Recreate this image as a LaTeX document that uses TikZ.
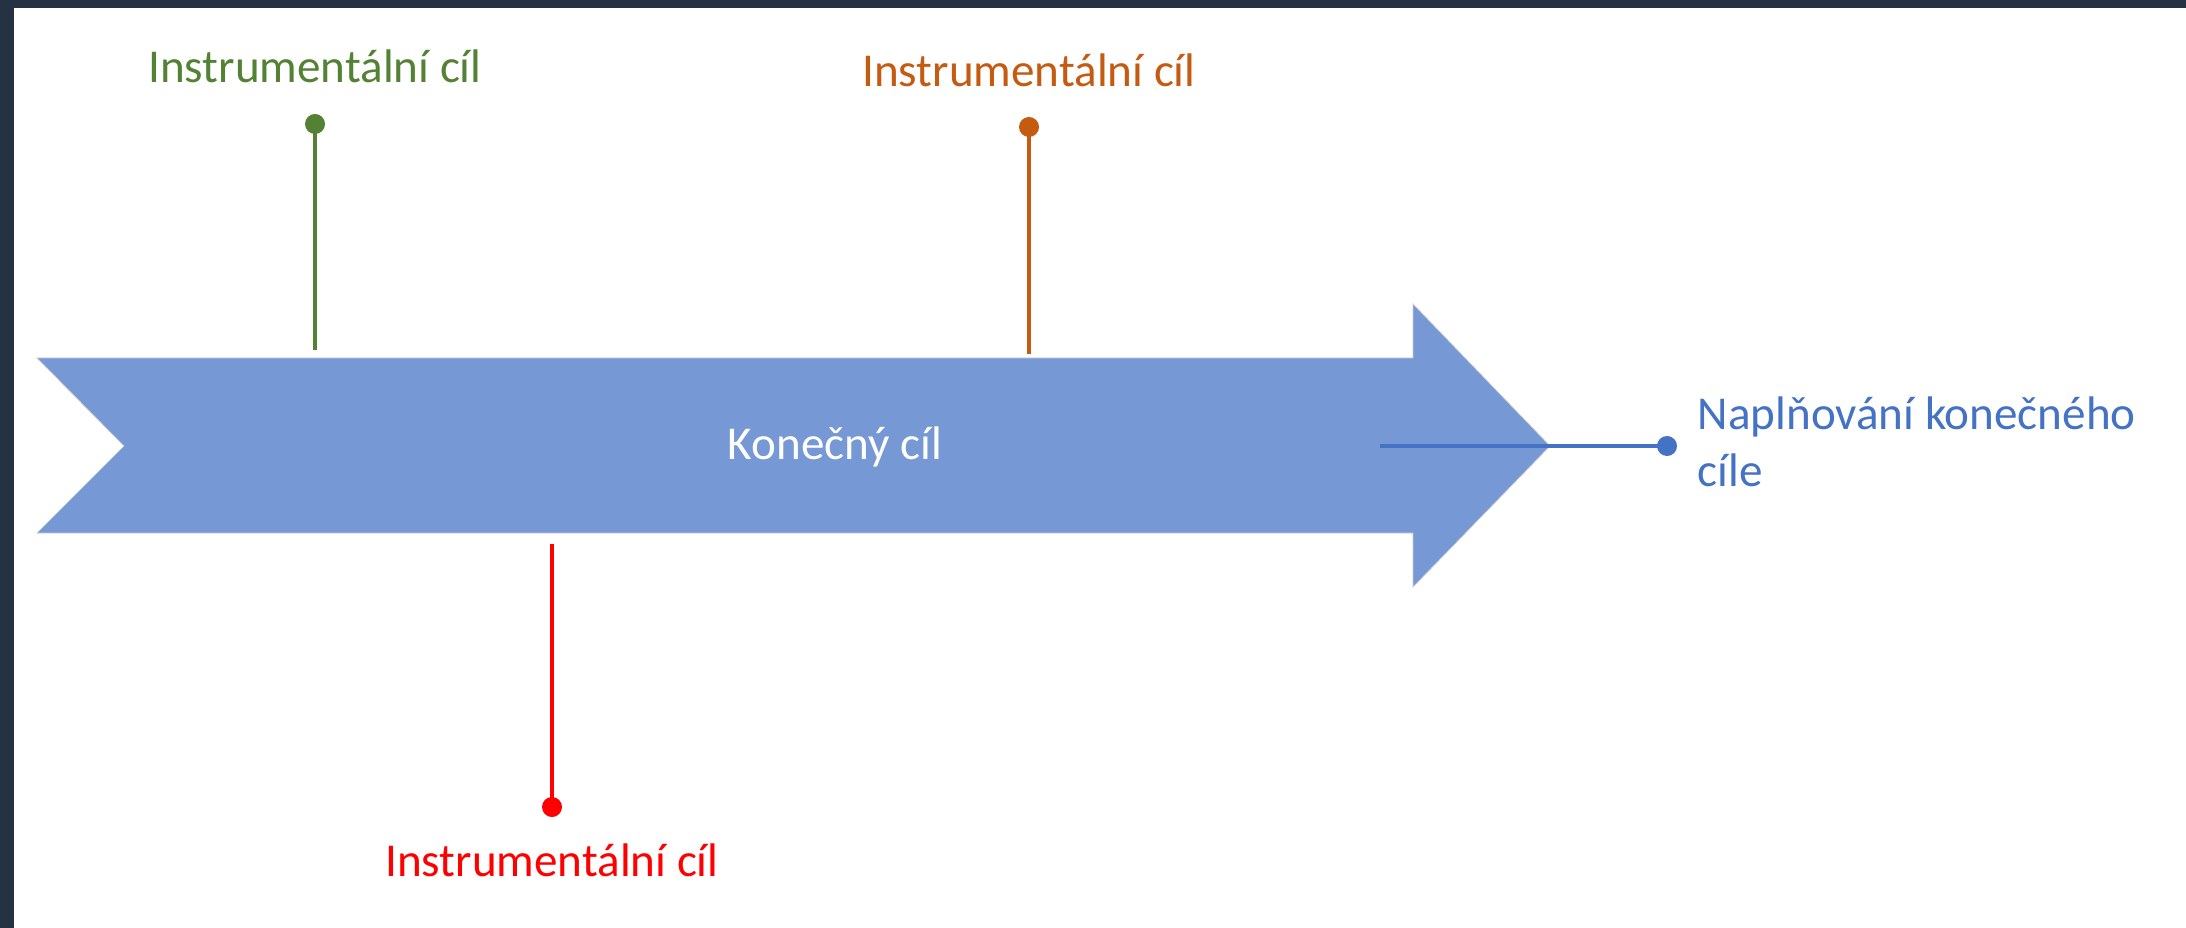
\documentclass[tikz,border=0pt]{standalone}
\usepackage{fontspec}
\setmainfont{Carlito}
\definecolor{frame}{HTML}{243242}
\definecolor{arrowfill}{HTML}{7698D4}
\definecolor{igreen}{HTML}{548235}
\definecolor{iorange}{HTML}{C55A11}
\definecolor{ired}{HTML}{FF0000}
\definecolor{iblue}{HTML}{4472C4}
\tikzset{
  lbl/.style={inner sep=0pt, font=\fontsize{13.4pt}{16pt}\selectfont},
  dotnode/.style={circle, inner sep=0pt, minimum size=0.2cm},
  stem/.style={line width=0.034cm},
  bigarrow/.style={fill=arrowfill, draw={rgb,255:red,205;green,205;blue,205}, line width=0.2pt}
}
\begin{document}
\begin{tikzpicture}[x=0.01cm,y=-0.01cm]
\useasboundingbox (0,0) rectangle (2186,928);
% frame
\fill[frame] (0,0) rectangle (2186,928);
\fill[white] (14,8) rectangle (2186,928);
% main arrow
\draw[bigarrow] (37,358) -- (1413,358) -- (1413,304) -- (1550,446) -- (1413,587) -- (1413,533) -- (37,533) -- (124,446) -- cycle;
\node[lbl, text=white, anchor=base] (main) at (835,460) {Konečný cíl};
\coordinate (tip) at (1550,446);
% green
\coordinate (gend) at (315,350);
\node[dotnode, fill=igreen] (gdot) at (315,124) {};
\draw[stem, igreen] (gdot.center) -- (gend);
\node[lbl, text=igreen, anchor=base] (glabel) at (315,83) {Instrumentální cíl};
% orange
\coordinate (oend) at (1029,354);
\node[dotnode, fill=iorange] (odot) at (1029,127) {};
\draw[stem, iorange] (odot.center) -- (oend);
\node[lbl, text=iorange, anchor=base] (olabel) at (1029,87) {Instrumentální cíl};
% red
\coordinate (rend) at (552,544);
\node[dotnode, fill=ired] (rdot) at (552,807) {};
\draw[stem, ired] (rdot.center) -- (rend);
\node[lbl, text=ired, anchor=base] (rlabel) at (552,876) {Instrumentální cíl};
% blue
\coordinate (bstart) at (1380,446);
\node[dotnode, fill=iblue] (bdot) at (1667,446) {};
\draw[stem, iblue] (bstart) -- (bdot.center);
\node[lbl, text=iblue, anchor=base west] (blabel) at (1697,430) {Naplňování konečného};
\node[lbl, text=iblue, anchor=base west] (blabel2) at (1697,487) {cíle};
\end{tikzpicture}
\end{document}
